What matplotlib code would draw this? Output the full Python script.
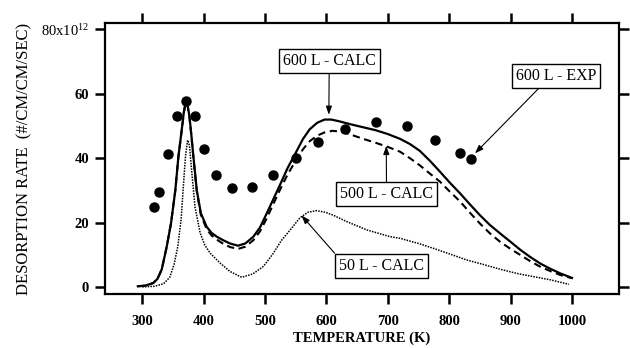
import matplotlib
matplotlib.use("Agg")
import matplotlib.pyplot as plt

plt.rcParams['font.family'] = ['Liberation Serif', 'DejaVu Serif']
plt.rcParams['mathtext.fontset'] = 'custom'
plt.rcParams['mathtext.rm'] = 'Liberation Serif'
plt.rcParams['mathtext.it'] = 'Liberation Serif:italic'
plt.rcParams['mathtext.bf'] = 'Liberation Serif:bold'

# 600 L - EXP (measured points)
exp_T = [319, 328, 342, 356, 371, 386, 401, 420, 447, 479, 513, 551, 586, 630, 680, 731, 777, 818, 835]
exp_R = [24.7, 29.5, 41.4, 53.1, 57.8, 53.1, 43.0, 34.7, 30.6, 30.9, 34.7, 40.2, 45.0, 49.2, 51.3, 49.9, 45.8, 41.6, 39.9]

# 600 L - CALC (solid)
c600_T = [293, 305, 318, 325, 332, 340, 347, 354, 359, 365, 368, 371, 374, 377, 380, 383.5, 389, 395.6,
          405, 413, 421.6, 432, 443, 456, 468, 481, 492, 502, 513, 524, 537, 551, 562, 573, 585, 597,
          608, 620, 640, 660, 680, 700, 720, 736, 752, 768, 785, 800, 818, 834, 850, 866, 883, 900,
          916, 932, 948, 965, 981, 1000]
c600_R = [0.2, 0.4, 1.2, 2.5, 5.5, 12.5, 19.8, 30.0, 40.4, 49.7, 54.5, 57.5, 56.5, 53.0, 47.5, 40.4, 30.0, 22.9,
          18.7, 16.8, 15.6, 14.5, 13.5, 12.8, 13.5, 15.6, 18.5, 22.5, 27.0, 31.5, 37.0, 42.0, 46.0, 49.0, 51.0, 52.0,
          52.0, 51.5, 50.5, 49.6, 48.7, 47.5, 46.0, 44.4, 42.3, 39.3, 35.8, 32.6, 29.0, 25.6, 22.3, 19.3, 16.6, 14.0,
          11.5, 9.3, 7.3, 5.6, 4.2, 2.8]

# 500 L - CALC (dashed)
c500_T = [293, 305, 318, 325, 332, 340, 347, 354, 359, 365, 368, 371, 374, 377, 380, 383.5, 389, 395.6,
          405, 413, 421.6, 432, 443, 456, 468, 481, 492, 502, 513, 524, 537, 551, 562, 573, 585, 597,
          610, 625, 640, 660, 680, 700, 720, 736, 752, 768, 785, 800, 818, 834, 850, 866, 883, 900,
          916, 932, 948, 965, 981, 1000]
c500_R = [0.2, 0.4, 1.2, 2.5, 5.5, 12.5, 19.8, 30.0, 40.4, 49.5, 54.3, 57.2, 56.3, 52.8, 47.2, 40.0, 29.6, 22.4,
          18.0, 16.0, 14.7, 13.4, 12.4, 11.8, 12.5, 14.5, 17.3, 21.0, 25.5, 30.0, 35.0, 39.5, 42.8, 45.3, 47.0, 48.0,
          48.5, 48.2, 47.3, 46.0, 44.8, 43.5, 42.0, 40.0, 37.8, 35.3, 32.7, 29.8, 26.5, 23.0, 19.7, 16.7, 14.0, 11.8,
          9.9, 8.0, 6.3, 4.9, 3.7, 2.7]

# 50 L - CALC (dotted)
c50_T = [300, 320, 335, 345, 352, 358, 363.5, 367, 370.5, 374, 377, 381, 386, 394.5, 402, 410.7, 427, 443, 462,
         480, 497, 512, 527, 541, 557, 570, 584, 598, 611, 633, 666, 704, 720, 750, 774, 800, 828,
         855, 883, 910, 937, 965, 995]
c50_R = [0.0, 0.2, 1.0, 3.0, 7.0, 12.5, 21.0, 31.0, 40.5, 45.6, 44.0, 35.3, 24.9, 16.7, 13.0, 10.5, 7.4, 4.8, 3.0,
         4.0, 6.3, 10.0, 14.5, 17.7, 21.5, 23.2, 23.7, 23.2, 22.3, 20.3, 17.7, 15.6, 15.1, 13.5, 12.0, 10.3, 8.4,
         7.0, 5.5, 4.2, 3.2, 2.2, 0.8]

x_ticks = [300, 400, 500, 600, 700, 800, 900, 1000]
y_ticks = [0, 20, 40, 60, 80]
y_ticklabels = ['0', '20', '40', '60', '80x10$^{12}$']

fig = plt.figure(figsize=(6.3, 3.48), dpi=100)
ax = fig.add_axes([105/630, 1 - 294/348, 514/630, 271/348])

ax.plot(c600_T, c600_R, color='black', lw=1.6, solid_joinstyle='round')
ax.plot(c500_T, c500_R, color='black', lw=1.5, linestyle=(0, (3.5, 2.2)))
ax.plot(c50_T, c50_R, color='black', lw=1.1, linestyle=(0, (1, 0.8)))
ax.plot(exp_T, exp_R, 'o', color='black', ms=6.5, zorder=5)

ax.set_xlim(239.5, 1076.5)
ax.set_ylim(-2.2, 82.0)

ax.set_xticks(x_ticks)
ax.set_xticklabels([str(t) for t in x_ticks], fontweight='bold', fontsize=10.5)
ax.set_yticks(y_ticks)
ax.set_yticklabels(y_ticklabels, fontsize=10.5)
for lab in ax.get_yticklabels()[:-1]:
    lab.set_fontweight('bold')

for s in ax.spines.values():
    s.set_linewidth(1.6)

ax.tick_params(axis='both', which='major', direction='out', length=7.5, width=1.8,
               top=True, right=True, labeltop=False, labelright=False)
ax.tick_params(axis='x', pad=7.5)
ax.tick_params(axis='y', pad=4)

ax.set_xlabel('TEMPERATURE (K)', fontweight='bold', fontsize=10.5, labelpad=3)
ax.set_ylabel('DESORPTION RATE  (#/CM/CM/SEC)', fontsize=12, labelpad=6)

box = dict(boxstyle='square,pad=0.25', fc='white', ec='black', lw=1.0)
arr = dict(arrowstyle='-|>,head_length=0.5,head_width=0.18', color='black', lw=0.8,
           shrinkA=0, shrinkB=0, mutation_scale=10)

ax.annotate('600 L - CALC', xy=(604, 53.5), xytext=(604.6, 70.3), ha='center', va='center',
            fontsize=11.5, bbox=box, arrowprops=dict(arr, relpos=(0.5, 0.0)))
ax.annotate('600 L - EXP', xy=(842, 41.5), xytext=(973.5, 65.5), ha='center', va='center',
            fontsize=11.5, bbox=box, arrowprops=dict(arr, relpos=(0.34, 0.0)))
ax.annotate('500 L - CALC', xy=(697.5, 43.8), xytext=(697.9, 28.8), ha='center', va='center',
            fontsize=11.5, bbox=box, arrowprops=dict(arr, relpos=(0.5, 1.0)))
ax.annotate('50 L - CALC', xy=(559.5, 22.2), xytext=(689, 6.6), ha='center', va='center',
            fontsize=11.5, bbox=box, arrowprops=dict(arr, relpos=(0.0, 1.0)))

fig.savefig('out.png', dpi=100)
